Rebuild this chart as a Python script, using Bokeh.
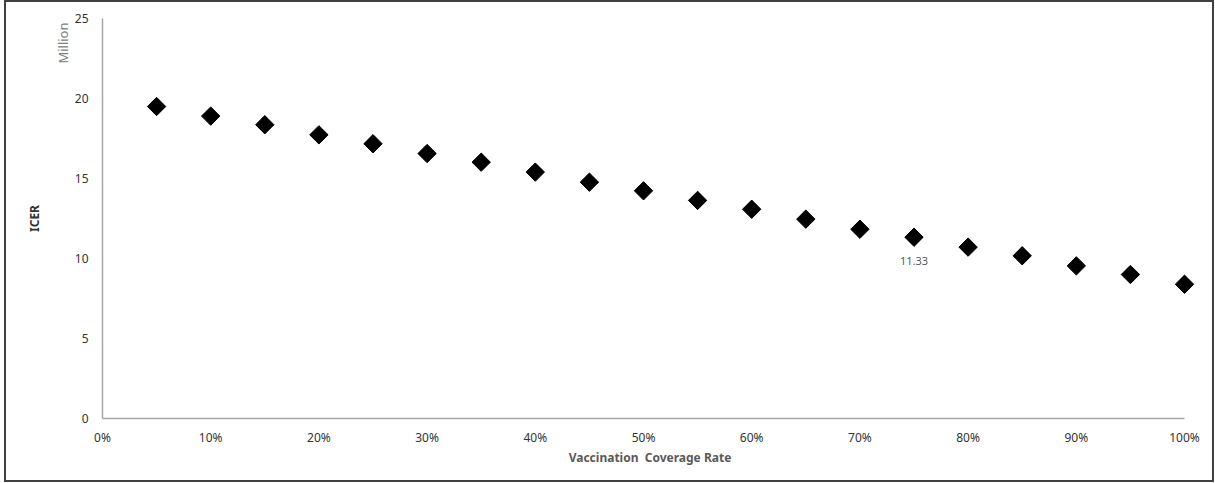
import math
from bokeh.plotting import figure
from bokeh.models import (ColumnDataSource, Range1d, NumeralTickFormatter, FixedTicker,
                          LabelSet, LinearAxis, Title)
from bokeh.core.properties import value
from bokeh.layouts import column
from bokeh.embed import file_html
from bokeh.resources import INLINE

# Vaccination coverage rate (fraction) and ICER (million)
coverage = [0.05, 0.10, 0.15, 0.20, 0.25, 0.30, 0.35, 0.40, 0.45, 0.50,
            0.55, 0.60, 0.65, 0.70, 0.75, 0.80, 0.85, 0.90, 0.95, 1.00]
icer = [19.50, 18.90, 18.36, 17.73, 17.17, 16.56, 16.02, 15.40, 14.77, 14.23,
        13.63, 13.08, 12.46, 11.83, 11.33, 10.71, 10.17, 9.54, 9.00, 8.39]

x_ticks = [0.0, 0.1, 0.2, 0.3, 0.4, 0.5, 0.6, 0.7, 0.8, 0.9, 1.0]
y_ticks = [0, 5, 10, 15, 20, 25]

# index of the point that carries a data label
labelled = [14]

FONT = "Noto Sans"

# a little room past 100% so the last marker is not cut by the frame;
# the axis line itself stops at 100%
p = figure(width=1206, height=478, output_backend="svg", toolbar_location=None,
           x_range=Range1d(0, 1.012), y_range=Range1d(0, 25),
           min_border_left=96, min_border_right=15, min_border_top=16, min_border_bottom=62)
p.outline_line_color = None
p.xgrid.grid_line_color = None
p.ygrid.grid_line_color = None
p.background_fill_color = "white"
p.border_fill_color = "white"

src = ColumnDataSource(dict(x=coverage, y=icer))
p.scatter("x", "y", source=src, marker="square", size=13, angle=math.pi / 4,
          fill_color="black", line_color="black")

lab_src = ColumnDataSource(dict(x=[coverage[i] for i in labelled],
                                y=[icer[i] for i in labelled],
                                t=[f"{icer[i]:.2f}" for i in labelled]))
p.add_layout(LabelSet(x="x", y="y", text="t", source=lab_src, y_offset=-24,
                      text_align="center", text_baseline="middle",
                      text_font=value(FONT), text_font_size=value("11px"),
                      text_color="#595959"))

for ax in (p.xaxis[0], p.yaxis[0]):
    ax.axis_line_color = "#a6a6a6"
    ax.axis_line_width = 1.5
    ax.major_tick_line_color = None
    ax.minor_tick_line_color = None
    ax.major_label_text_font = FONT
    ax.major_label_text_font_size = "12px"
    ax.major_label_text_color = "#333333"
    ax.axis_label_text_font = FONT
    ax.axis_label_text_font_size = "12px"
    ax.axis_label_text_font_style = "bold"
    ax.axis_label_text_color = "#595959"

p.xaxis.ticker = FixedTicker(ticks=x_ticks)
p.xaxis.formatter = NumeralTickFormatter(format="0%")
p.xaxis.bounds = (0, 1)
p.xaxis.major_label_standoff = 4
p.xaxis.axis_label = "Vaccination\u00a0 Coverage Rate"
p.xaxis.axis_label_standoff = 0

p.yaxis.ticker = FixedTicker(ticks=y_ticks)
p.yaxis.major_label_standoff = 8

# unit caption next to the top of the value axis
p.add_layout(Title(text="Million", align="right", offset=4, standoff=0,
                   text_font=FONT, text_font_size="13px", text_font_style="normal",
                   text_color="#808080"), "left")

# value axis title, carried by a bare axis further out
icer_axis = LinearAxis(ticker=FixedTicker(ticks=[]), axis_label="ICER",
                       axis_line_color=None, major_tick_line_color=None,
                       minor_tick_line_color=None, major_label_text_font_size="0px",
                       major_label_standoff=0, axis_label_standoff=9,
                       axis_label_text_font=FONT, axis_label_text_font_size="12px",
                       axis_label_text_font_style="bold", axis_label_text_color="#333333")
p.add_layout(icer_axis, "left")

layout = column(p, styles={"border": "2px solid #404040", "margin-left": "4px",
                           "background-color": "white"})

open("out.html", "w").write(file_html(layout, INLINE))
